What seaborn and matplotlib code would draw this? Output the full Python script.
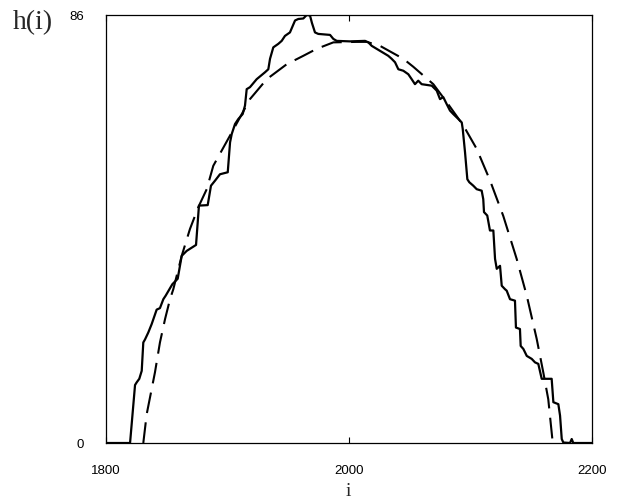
import matplotlib
matplotlib.use("Agg")
import matplotlib.pyplot as plt
import seaborn as sns
import pandas as pd

# Measured height profile h(i) (staircase traced through its corners)
site_measured = [
    1800.0, 1819.8, 1823.9, 1825.3, 1827.4, 1829.4, 1830.7, 1832.1, 1834.8, 1837.6,
    1841.7, 1844.4, 1847.2, 1849.1, 1854.6, 1859.0, 1862.3, 1866.4, 1874.1, 1876.5,
    1883.7, 1886.4, 1889.7, 1893.8, 1900.2, 1902.1, 1903.5, 1906.2, 1908.9, 1912.5,
    1914.4, 1915.8, 1918.5, 1924.0, 1930.9, 1933.6, 1935.0, 1937.7, 1941.8, 1944.6,
    1947.3, 1951.4, 1955.6, 1958.3, 1962.4, 1965.2, 1967.9, 1969.5, 1972.0, 1974.7,
    1984.4, 1987.1, 1989.9, 2000.8, 2013.2, 2015.9, 2018.7, 2025.5, 2029.6, 2032.3,
    2035.1, 2037.9, 2040.6, 2044.7, 2048.8, 2051.6, 2054.3, 2057.0, 2059.8, 2068.1,
    2072.2, 2074.9, 2077.6, 2080.4, 2083.1, 2085.8, 2090.0, 2092.8, 2093.6, 2095.5,
    2097.4, 2099.0, 2102.3, 2105.1, 2109.2, 2110.5, 2111.1, 2113.8, 2116.0, 2118.8,
    2120.2, 2121.6, 2124.3, 2125.7, 2128.4, 2129.8, 2132.5, 2136.6, 2137.4, 2140.7,
    2141.3, 2143.5, 2146.3, 2150.4, 2153.1, 2155.8, 2158.6, 2166.8, 2168.2, 2172.3,
    2173.7, 2175.1, 2176.4, 2181.9, 2183.3, 2184.6, 2200.0,
]
height_measured = [
    0.0, 0.0, 11.65, 12.2, 12.9, 14.5, 20.2, 20.8, 22.2, 23.9,
    26.8, 27.1, 28.9, 29.6, 31.9, 33.0, 37.6, 38.6, 39.8, 47.7,
    47.8, 51.7, 52.7, 54.0, 54.4, 60.4, 62.1, 64.1, 65.1, 66.1,
    67.8, 71.1, 71.5, 73.1, 74.5, 75.1, 77.2, 79.5, 80.2, 80.8,
    81.8, 82.5, 84.9, 85.2, 85.3, 86.0, 85.9, 84.4, 82.5, 82.2,
    82.0, 81.2, 80.8, 80.7, 80.8, 80.5, 79.8, 78.8, 78.2, 77.8,
    77.2, 76.5, 75.1, 74.8, 74.1, 73.1, 72.1, 72.8, 72.1, 71.8,
    70.8, 69.1, 69.5, 68.1, 66.8, 66.1, 65.1, 64.4, 63.1, 58.4,
    53.0, 52.4, 51.7, 51.0, 50.7, 49.0, 46.4, 45.7, 42.7, 42.7,
    37.0, 35.0, 35.6, 31.6, 30.9, 30.6, 28.9, 28.6, 23.2, 22.9,
    19.5, 18.9, 17.5, 16.9, 16.2, 15.9, 12.9, 12.9, 8.2, 7.8,
    5.5, 0.8, 0.1, 0.0, 0.8, 0.0, 0.0,
]

# Smooth limiting shape
site_limit = [
    1830.7, 1833.5, 1840.3, 1844.4, 1848.6, 1852.7, 1855.4, 1862.3, 1869.1, 1876.0,
    1882.9, 1888.3, 1903.5, 1918.5, 1932.3, 1948.7, 1962.4, 1973.4, 1987.1, 2006.3,
    2014.6, 2025.5, 2044.7, 2052.9, 2069.4, 2080.4, 2094.1, 2105.1, 2116.0, 2127.0,
    2138.0, 2146.3, 2154.5, 2159.9, 2164.0, 2167.7,
]
height_limit = [
    0.0, 5.8, 14.2, 20.2, 24.9, 28.9, 30.9, 37.6, 43.0, 47.4,
    51.0, 55.7, 62.4, 69.1, 73.1, 76.1, 77.8, 79.2, 80.5, 80.6,
    80.6, 79.8, 77.2, 75.6, 72.1, 68.5, 63.8, 59.1, 52.8, 45.6,
    37.0, 29.6, 20.9, 14.2, 8.8, 0.0,
]

x_ticks = [1800, 2000, 2200]
y_ticks = [0, 86]

sns.set_theme(style="white")
plt.rcParams["font.family"] = ["Liberation Sans", "DejaVu Sans"]

measured = pd.DataFrame({"i": site_measured, "h": height_measured})
limit = pd.DataFrame({"i": site_limit, "h": height_limit})

fig = plt.figure(figsize=(6.18, 5.02), dpi=100)
ax = fig.add_axes([106 / 618, 58 / 502, 486 / 618, 428 / 502])

sns.lineplot(data=measured, x="i", y="h", ax=ax, color="black",
             linewidth=1.6, sort=False, estimator=None)
sns.lineplot(data=limit, x="i", y="h", ax=ax, color="black",
             linewidth=1.5, sort=False, estimator=None, dashes=False)
ax.lines[-1].set_dashes([10, 4.5])

ax.set_xlim(1800, 2200)
ax.set_ylim(0, 86)
ax.set_xticks(x_ticks)
ax.set_yticks(y_ticks)
ax.set_xticklabels([str(t) for t in x_ticks], fontsize=9.5)
ax.set_yticklabels([str(t) for t in y_ticks], fontsize=9.5)
ax.tick_params(axis="x", direction="in", length=4, width=0.8, pad=15,
               top=True, bottom=True, colors="black")
ax.tick_params(axis="y", length=0, pad=16, colors="black")
ax.set_xlabel("")
ax.set_ylabel("")

for side in ax.spines.values():
    side.set_visible(True)
    side.set_color("black")
    side.set_linewidth(0.9)

fig.text(13 / 618, (502 - 29) / 502, "h(i)", ha="left", va="baseline",
         fontsize=20, family=["Liberation Serif", "DejaVu Serif"])
fig.text(348 / 618, 6 / 502, "i", ha="center", va="baseline",
         fontsize=14, family=["Liberation Serif", "DejaVu Serif"])

fig.savefig("out.png", dpi=100, facecolor="white")
